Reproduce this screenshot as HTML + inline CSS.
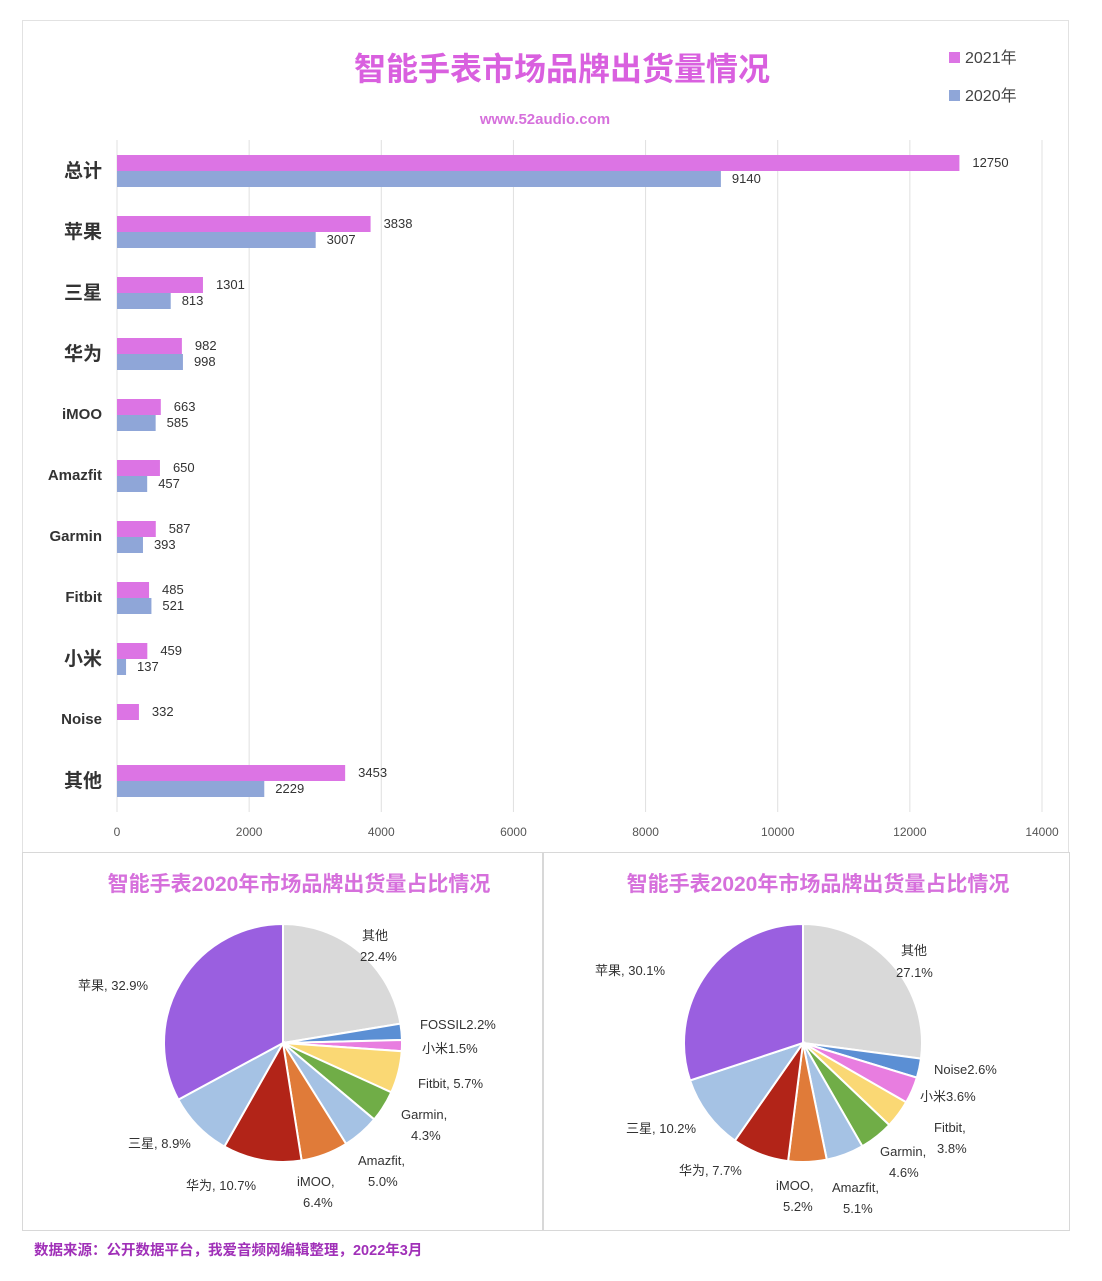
<!DOCTYPE html>
<html><head><meta charset="utf-8"><style>
body{margin:0;background:#fff;width:1102px;height:1276px;overflow:hidden;font-family:"Liberation Sans","Noto Sans CJK SC",sans-serif}
</style></head><body>
<svg id="s" width="1102" height="1276" xmlns="http://www.w3.org/2000/svg" font-family="Liberation Sans, Noto Sans CJK SC, sans-serif">
<rect x="22.5" y="20.5" width="1046" height="832" fill="#fff" stroke="#e2e2e2"/>
<rect x="22.5" y="852.5" width="520" height="378" fill="#fff" stroke="#d8d8d8"/>
<rect x="543.5" y="852.5" width="526" height="378" fill="#fff" stroke="#d8d8d8"/>
<text x="562" y="80" text-anchor="middle" font-size="32" font-weight="bold" fill="#d960df">智能手表市场品牌出货量情况</text>
<text x="545" y="124" text-anchor="middle" font-size="15" font-weight="bold" fill="#d670dc">www.52audio.com</text>
<rect x="949" y="52" width="11" height="11" fill="#dc74e4"/><text x="965" y="63" font-size="16" fill="#444">2021年</text>
<rect x="949" y="90" width="11" height="11" fill="#8fa6d8"/><text x="965" y="101" font-size="16" fill="#444">2020年</text>
<g id="bars"></g>
<text x="299" y="891" text-anchor="middle" font-size="21" font-weight="bold" fill="#d670dc">智能手表2020年市场品牌出货量占比情况</text>
<text x="818" y="891" text-anchor="middle" font-size="21" font-weight="bold" fill="#d670dc">智能手表2020年市场品牌出货量占比情况</text>
<g id="p1"></g><g id="p2"></g>
<g font-size="13" fill="#333">
<text x="362" y="940">其他</text><text x="360" y="961">22.4%</text>
<text x="420" y="1029">FOSSIL2.2%</text>
<text x="422" y="1053">小米1.5%</text>
<text x="418" y="1088">Fitbit, 5.7%</text>
<text x="401" y="1119">Garmin,</text><text x="411" y="1140">4.3%</text>
<text x="358" y="1165">Amazfit,</text><text x="368" y="1186">5.0%</text>
<text x="297" y="1186">iMOO,</text><text x="303" y="1207">6.4%</text>
<text x="186" y="1190">华为, 10.7%</text>
<text x="128" y="1148">三星, 8.9%</text>
<text x="78" y="990">苹果, 32.9%</text>
<text x="901" y="955">其他</text><text x="896" y="977">27.1%</text>
<text x="934" y="1074">Noise2.6%</text>
<text x="920" y="1101">小米3.6%</text>
<text x="934" y="1132">Fitbit,</text><text x="937" y="1153">3.8%</text>
<text x="880" y="1156">Garmin,</text><text x="889" y="1177">4.6%</text>
<text x="832" y="1192">Amazfit,</text><text x="843" y="1213">5.1%</text>
<text x="776" y="1190">iMOO,</text><text x="783" y="1211">5.2%</text>
<text x="679" y="1175">华为, 7.7%</text>
<text x="626" y="1133">三星, 10.2%</text>
<text x="595" y="975">苹果, 30.1%</text>
</g>
<text x="34" y="1255" font-size="14.5" font-weight="bold" fill="#a030b8">数据来源：公开数据平台，我爱音频网编辑整理，2022年3月</text>
</svg>
<script>
var NS="http://www.w3.org/2000/svg";
function el(p,t,a,txt){var e=document.createElementNS(NS,t);for(var k in a)e.setAttribute(k,a[k]);if(txt!=null)e.textContent=txt;p.appendChild(e);return e;}
var g=document.getElementById('bars');
var x0=117,sc=925/14000;
for(var i=0;i<=7;i++){var x=x0+i*2000*sc;el(g,'line',{x1:x,x2:x,y1:140,y2:812,stroke:'#e0e0e0'});
el(g,'text',{x:x,y:836,'text-anchor':'middle','font-size':12,fill:'#555'},String(i*2000));}
var d=[["总计",12750,9140],["苹果",3838,3007],["三星",1301,813],["华为",982,998],["iMOO",663,585],["Amazfit",650,457],["Garmin",587,393],["Fitbit",485,521],["小米",459,137],["Noise",332,null],["其他",3453,2229]];
d.forEach(function(r,i){var c=170+i*61;
var cjk=/[\u4e00-\u9fff]/.test(r[0]);
el(g,'text',{x:102,y:c+(cjk?7:5),'text-anchor':'end','font-size':cjk?19:15,'font-weight':'bold',fill:'#333'},r[0]);
el(g,'rect',{x:x0,y:c-15,width:r[1]*sc,height:16,fill:'#dc74e4'});
el(g,'text',{x:x0+r[1]*sc+13,y:c-3,'font-size':13,fill:'#333'},String(r[1]));
if(r[2]!=null){el(g,'rect',{x:x0,y:c+1,width:r[2]*sc,height:16,fill:'#8fa6d8'});
el(g,'text',{x:x0+r[2]*sc+11,y:c+13,'font-size':13,fill:'#333'},String(r[2]));}
});
var cols=['#d9d9d9','#5b8fd4','#e87de0','#fad874','#70ad47','#a5c2e4','#e07b39','#b22418','#a5c2e4','#9a5fe0'];
function pie(id,cx,cy,r,v){var p=document.getElementById(id),a=0;
v.forEach(function(val,i){var a1=a+val/100*2*Math.PI;
var x1=cx+r*Math.sin(a),y1=cy-r*Math.cos(a),x2=cx+r*Math.sin(a1),y2=cy-r*Math.cos(a1);
el(p,'path',{d:'M'+cx+','+cy+'L'+x1+','+y1+'A'+r+','+r+' 0 '+((a1-a)>Math.PI?1:0)+' 1 '+x2+','+y2+'Z',fill:cols[i],stroke:'#fff','stroke-width':2});a=a1;});}
pie('p1',283,1043,119,[22.4,2.2,1.5,5.7,4.3,5.0,6.4,10.7,8.9,32.9]);
pie('p2',803,1043,119,[27.1,2.6,3.6,3.8,4.6,5.1,5.2,7.7,10.2,30.1]);
</script>
</body></html>
